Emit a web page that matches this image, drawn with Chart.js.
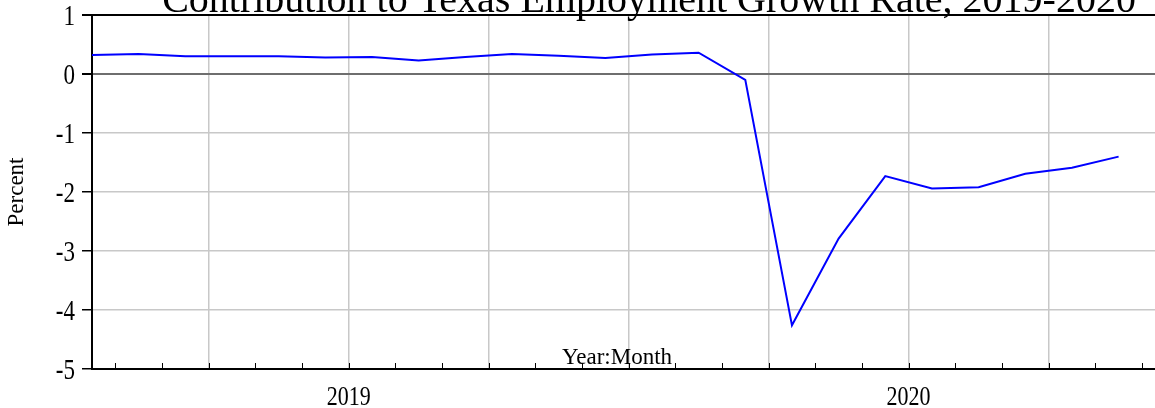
<!DOCTYPE html>
<html>
<head>
<meta charset="utf-8">
<script src="https://cdn.jsdelivr.net/npm/chart.js@4.4.1/dist/chart.umd.min.js"></script>
<style>
  html, body { margin: 0; padding: 0; background: #fff; }
  #wrap { width: 1155px; height: 408px; }
</style>
</head>
<body>
<div id="wrap"><canvas id="c" width="1155" height="408"></canvas></div>
<script>
// ---- data ----
const months = ['2019-01','2019-02','2019-03','2019-04','2019-05','2019-06','2019-07','2019-08','2019-09','2019-10','2019-11','2019-12',
                '2020-01','2020-02','2020-03','2020-04','2020-05','2020-06','2020-07','2020-08','2020-09','2020-10','2020-11'];
const contribution = [0.32, 0.34, 0.30, 0.30, 0.30, 0.28, 0.29, 0.23, 0.29, 0.34, 0.31, 0.27,
                      0.33, 0.36, -0.10, -4.26, -2.79, -1.73, -1.94, -1.92, -1.69, -1.59, -1.40];
const years = ['2019', '2020'];
const yTicks = [1, 0, -1, -2, -3, -4, -5];
const titleText = 'Contribution to Texas Employment Growth Rate, 2019-2020';
const yAxisTitle = 'Percent';
const xAxisTitle = 'Year:Month';

const SERIF = '"Liberation Serif", "Times New Roman", serif';
const STRETCH = 1.25;   // tick text in the source is drawn taller than wide

// month-boundary positions; year label sits at the middle of each year
const boundaries = months.map((m, i) => i + 0.5);
const yearPos = years.map(y => {
  const idx = months.map((m, i) => m.startsWith(y) ? i : -1).filter(i => i >= 0);
  return { label: y, value: idx[0] - 0.5 + 6 };
});

const points = contribution.map((v, i) => ({ x: i, y: v }));

function stretchedText(ctx, text, x, y, size, align) {
  ctx.save();
  ctx.translate(x, y);
  ctx.scale(1, STRETCH);
  ctx.font = size + 'px ' + SERIF;
  ctx.textAlign = align;
  ctx.textBaseline = 'alphabetic';
  ctx.fillText(text, 0, 0.338 * size);
  ctx.restore();
}

const decor = {
  id: 'decor',
  afterDraw(chart) {
    const { ctx, chartArea, scales } = chart;
    const xs = scales.x, ys = scales.y;
    ctx.save();
    // minor month ticks rising from bottom axis
    ctx.strokeStyle = '#000';
    ctx.lineWidth = 1;
    boundaries.forEach(b => {
      const px = Math.round(xs.getPixelForValue(b)) + 0.5;
      if (px > chartArea.right) return;
      ctx.beginPath();
      ctx.moveTo(px, chartArea.bottom);
      ctx.lineTo(px, chartArea.bottom - 6);
      ctx.stroke();
    });
    ctx.fillStyle = '#000';
    // y tick labels
    yTicks.forEach(v => {
      stretchedText(ctx, String(v), chartArea.left - 17, ys.getPixelForValue(v), 23, 'right');
    });
    // year labels
    yearPos.forEach(p => {
      stretchedText(ctx, p.label, xs.getPixelForValue(p.value), chartArea.bottom + 27, 22, 'center');
    });
    // x axis title inside plot
    ctx.font = '23px ' + SERIF;
    ctx.textAlign = 'center';
    ctx.textBaseline = 'alphabetic';
    ctx.fillText(xAxisTitle, 617, chartArea.bottom - 5);
    // chart title (partly clipped at top)
    ctx.font = '40px ' + SERIF;
    ctx.fillText(titleText, 649, 12);
    ctx.restore();
  }
};

new Chart(document.getElementById('c'), {
  type: 'line',
  data: {
    datasets: [{
      data: points,
      borderColor: '#0000ff',
      borderWidth: 2,
      pointRadius: 0,
      tension: 0,
      fill: false
    }]
  },
  options: {
    responsive: false,
    animation: false,
    layout: { padding: { top: 15, left: 0, right: 0, bottom: 0 } },
    plugins: { legend: { display: false }, tooltip: { enabled: false }, title: { display: false } },
    scales: {
      x: {
        type: 'linear',
        min: 0,
        max: 22.78,
        afterBuildTicks(scale) { scale.ticks = boundaries.map(v => ({ value: v })); },
        afterFit(scale) { scale.height = 39; scale.paddingLeft = 0; scale.paddingRight = 0; },
        border: { display: true, color: '#000', width: 2 },
        grid: {
          drawTicks: false,
          color: c => (c.tick && ((c.tick.value + 0.5) % 3 === 0)) ? '#c8c8c8' : 'rgba(0,0,0,0)',
          lineWidth: 1.5
        },
        ticks: { display: false, autoSkip: false }
      },
      y: {
        min: -5,
        max: 1,
        afterBuildTicks(scale) { scale.ticks = yTicks.map(v => ({ value: v })); },
        afterFit(scale) { scale.width = 92; scale.paddingTop = 0; scale.paddingBottom = 0; },
        border: { display: true, color: '#000', width: 2 },
        grid: {
          drawTicks: true,
          tickLength: 10,
          tickColor: '#000',
          color: c => {
            const v = c.tick ? c.tick.value : null;
            if (v === 0) return '#6e6e6e';
            if (v === 1) return '#000';
            if (v === -5) return 'rgba(0,0,0,0)';
            return '#c8c8c8';
          },
          lineWidth: c => (c.tick && (c.tick.value === 0 || c.tick.value === 1)) ? 2 : 1.5
        },
        ticks: { display: false },
        title: {
          display: true,
          text: yAxisTitle,
          color: '#000',
          font: { family: SERIF, size: 23 },
          padding: { top: 3, bottom: 0 }
        }
      }
    }
  },
  plugins: [decor]
});
</script>
</body>
</html>
